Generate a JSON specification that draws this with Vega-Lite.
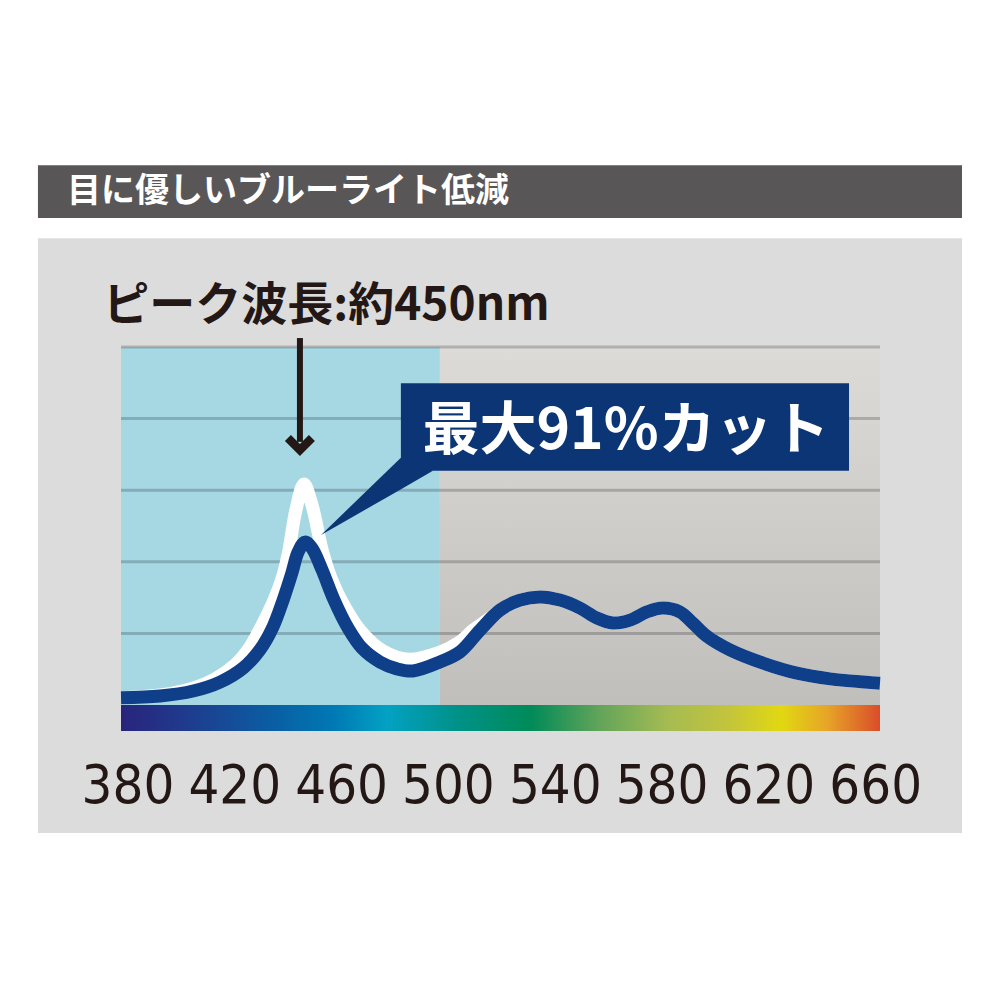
{
  "$schema": "https://vega.github.io/schema/vega-lite/v6.json",
  "width": 759,
  "height": 358,
  "autosize": "none",
  "padding": {"left": 121, "top": 347, "right": 120, "bottom": 295},
  "background": "#ffffff",
  "config": {
    "view": {"stroke": null}
  },
  "datasets": {
    "reduced": [
      {"nm": 377.4, "v": 2.0}, {"nm": 392.0, "v": 2.5}, {"nm": 404.4, "v": 3.9}, {"nm": 414.5, "v": 6.4},
      {"nm": 423.1, "v": 10.3}, {"nm": 429.4, "v": 15.4}, {"nm": 434.3, "v": 21.8}, {"nm": 438.1, "v": 29.3},
      {"nm": 441.4, "v": 36.9}, {"nm": 443.7, "v": 42.7}, {"nm": 446.3, "v": 45.5}, {"nm": 448.9, "v": 43.8},
      {"nm": 452.7, "v": 37.7}, {"nm": 457.2, "v": 29.3}, {"nm": 462.4, "v": 21.5}, {"nm": 467.6, "v": 15.9},
      {"nm": 474.4, "v": 12.0}, {"nm": 480.7, "v": 10.1}, {"nm": 486.7, "v": 9.5}, {"nm": 496.8, "v": 12.0},
      {"nm": 504.3, "v": 14.8}, {"nm": 511.8, "v": 20.9}, {"nm": 519.3, "v": 26.5}, {"nm": 526.8, "v": 29.3},
      {"nm": 534.3, "v": 30.2}, {"nm": 541.8, "v": 29.3}, {"nm": 549.2, "v": 27.1}, {"nm": 555.6, "v": 24.3},
      {"nm": 561.6, "v": 22.9}, {"nm": 568.0, "v": 23.7}, {"nm": 574.3, "v": 26.0}, {"nm": 580.3, "v": 27.1},
      {"nm": 586.7, "v": 26.0}, {"nm": 591.6, "v": 22.8}, {"nm": 596.8, "v": 19.2}, {"nm": 605.4, "v": 15.4},
      {"nm": 617.8, "v": 11.7}, {"nm": 630.5, "v": 8.9}, {"nm": 642.9, "v": 7.3}, {"nm": 661.6, "v": 6.1}
    ],
    "original": [
      {"nm": 377.4, "v": 2.0}, {"nm": 392.0, "v": 2.8}, {"nm": 404.4, "v": 4.7}, {"nm": 412.6, "v": 7.3},
      {"nm": 420.1, "v": 11.2}, {"nm": 425.0, "v": 15.4}, {"nm": 430.2, "v": 22.3}, {"nm": 434.7, "v": 29.3},
      {"nm": 438.1, "v": 36.3}, {"nm": 440.3, "v": 43.3}, {"nm": 442.9, "v": 54.5}, {"nm": 445.9, "v": 61.7},
      {"nm": 448.9, "v": 55.9}, {"nm": 452.7, "v": 43.3}, {"nm": 456.0, "v": 35.5}, {"nm": 459.8, "v": 29.3},
      {"nm": 466.9, "v": 20.9}, {"nm": 475.5, "v": 15.1}, {"nm": 484.9, "v": 12.8}, {"nm": 496.8, "v": 14.8},
      {"nm": 504.3, "v": 17.6}, {"nm": 509.2, "v": 20.9}, {"nm": 515.6, "v": 24.3}, {"nm": 519.3, "v": 26.5},
      {"nm": 526.8, "v": 29.3}, {"nm": 534.3, "v": 30.2}, {"nm": 541.8, "v": 29.3}, {"nm": 549.2, "v": 27.1},
      {"nm": 555.6, "v": 24.3}, {"nm": 561.6, "v": 22.9}, {"nm": 568.0, "v": 23.7}, {"nm": 574.3, "v": 26.0},
      {"nm": 580.3, "v": 27.1}, {"nm": 586.7, "v": 26.0}, {"nm": 591.6, "v": 22.8}, {"nm": 596.8, "v": 19.2},
      {"nm": 605.4, "v": 15.4}, {"nm": 617.8, "v": 11.7}, {"nm": 630.5, "v": 8.9}, {"nm": 642.9, "v": 7.3},
      {"nm": 661.6, "v": 6.1}
    ],
    "grid": [{"v": 20}, {"v": 40}, {"v": 60}, {"v": 80}, {"v": 100}],
    "ticks": [{"nm": 380}, {"nm": 420}, {"nm": 460}, {"nm": 500}, {"nm": 540}, {"nm": 580}, {"nm": 620}, {"nm": 660}],
    "one": [{}]
  },
  "layer": [
    {
      "data": {"name": "one"},
      "mark": {"type": "rect", "color": "#dcdcdc"},
      "encoding": {
        "x": {"datum": 346.3, "type": "quantitative", "scale": {"domain": [377.4, 661.6], "nice": false, "zero": false}, "axis": null},
        "x2": {"datum": 692.3},
        "y": {"datum": -35.75, "type": "quantitative", "scale": {"domain": [0, 100], "nice": false, "zero": false}, "axis": null},
        "y2": {"datum": 130.4}
      }
    },
    {
      "data": {"name": "one"},
      "mark": {"type": "rect", "color": "#595657"},
      "encoding": {
        "x": {"datum": 346.3, "type": "quantitative", "axis": null},
        "x2": {"datum": 692.3},
        "y": {"datum": 136.0, "type": "quantitative", "axis": null},
        "y2": {"datum": 150.8}
      }
    },
    {
      "data": {"name": "one"},
      "mark": {"type": "text", "text": "目に優しいブルーライト低減", "font": "Noto Sans CJK JP", "fontWeight": "bold", "fontSize": 34, "color": "#ffffff", "align": "left", "baseline": "middle"},
      "encoding": {
        "x": {"datum": 357.2, "type": "quantitative", "axis": null},
        "y": {"datum": 143.3, "type": "quantitative", "axis": null}
      }
    },
    {
      "data": {"name": "one"},
      "mark": {"type": "rect", "color": "#a6d8e4"},
      "encoding": {
        "x": {"datum": 377.4, "type": "quantitative", "axis": null},
        "x2": {"datum": 496.8},
        "y": {"datum": 0, "type": "quantitative", "axis": null},
        "y2": {"datum": 100}
      }
    },
    {
      "data": {"name": "one"},
      "mark": {"type": "rect", "color": {"gradient": "linear", "x1": 0, "y1": 0, "x2": 0, "y2": 1, "stops": [{"offset": 0, "color": "#dddbd8"}, {"offset": 1, "color": "#c1bfbc"}]}},
      "encoding": {
        "x": {"datum": 496.8, "type": "quantitative", "axis": null},
        "x2": {"datum": 661.6},
        "y": {"datum": 0, "type": "quantitative", "axis": null},
        "y2": {"datum": 100}
      }
    },
    {
      "data": {"name": "grid"},
      "mark": {"type": "rule", "color": "#000000", "opacity": 0.2, "strokeWidth": 3},
      "encoding": {
        "y": {"field": "v", "type": "quantitative", "axis": null}
      }
    },
    {
      "data": {"name": "one"},
      "mark": {"type": "rect", "color": {"gradient": "linear", "x1": 0, "y1": 0, "x2": 1, "y2": 0, "stops": [
        {"offset": 0, "color": "#29247c"},
        {"offset": 0.1, "color": "#1d3f90"},
        {"offset": 0.2, "color": "#0a5ea3"},
        {"offset": 0.28, "color": "#0079b4"},
        {"offset": 0.35, "color": "#03a1c3"},
        {"offset": 0.44, "color": "#00928a"},
        {"offset": 0.54, "color": "#008b58"},
        {"offset": 0.63, "color": "#62a45a"},
        {"offset": 0.72, "color": "#a5bb52"},
        {"offset": 0.8, "color": "#c3c43c"},
        {"offset": 0.87, "color": "#e1d811"},
        {"offset": 0.93, "color": "#e7a527"},
        {"offset": 1, "color": "#d94d2a"}
      ]}},
      "encoding": {
        "x": {"datum": 377.4, "type": "quantitative", "axis": null},
        "x2": {"datum": 661.6},
        "y": {"datum": -7.26, "type": "quantitative", "axis": null},
        "y2": {"datum": 0}
      }
    },
    {
      "data": {"name": "ticks"},
      "mark": {"type": "text", "font": "DejaVu Sans Condensed, Noto Sans, sans-serif", "fontSize": 54, "color": "#231815", "align": "center", "baseline": "alphabetic"},
      "encoding": {
        "x": {"field": "nm", "type": "quantitative", "axis": null},
        "y": {"datum": -27.4, "type": "quantitative", "axis": null},
        "text": {"field": "nm", "type": "quantitative"}
      }
    },
    {
      "data": {"name": "original"},
      "mark": {"type": "line", "color": "#ffffff", "strokeWidth": 13, "interpolate": "catmull-rom", "strokeJoin": "round"},
      "encoding": {
        "x": {"field": "nm", "type": "quantitative", "axis": null},
        "y": {"field": "v", "type": "quantitative", "axis": null}
      }
    },
    {
      "data": {"name": "reduced"},
      "mark": {"type": "line", "color": "#0f3f88", "strokeWidth": 13, "interpolate": "catmull-rom", "strokeJoin": "round"},
      "encoding": {
        "x": {"field": "nm", "type": "quantitative", "axis": null},
        "y": {"field": "v", "type": "quantitative", "axis": null}
      }
    },
    {
      "data": {"values": [{"x": 452.3, "y": 47.5, "y2": 47.5}, {"x": 482.1, "y": 69.0, "y2": 60.2}, {"x": 494.2, "y": 65.4, "y2": 65.4}]},
      "mark": {"type": "area", "color": "#0b3574", "interpolate": "linear", "orient": "vertical"},
      "encoding": {
        "x": {"field": "x", "type": "quantitative", "axis": null},
        "y": {"field": "y", "type": "quantitative", "axis": null},
        "y2": {"field": "y2"}
      }
    },
    {
      "data": {"name": "one"},
      "mark": {"type": "rect", "color": "#0b3574"},
      "encoding": {
        "x": {"datum": 482.2, "type": "quantitative", "axis": null},
        "x2": {"datum": 650.0},
        "y": {"datum": 65.4, "type": "quantitative", "axis": null},
        "y2": {"datum": 89.9}
      }
    },
    {
      "data": {"name": "one"},
      "mark": {"type": "text", "text": "最大91%カット", "font": "Noto Sans CJK JP", "fontWeight": "bold", "fontSize": 57, "color": "#ffffff", "align": "center", "baseline": "middle"},
      "encoding": {
        "x": {"datum": 566.5, "type": "quantitative", "axis": null},
        "y": {"datum": 76.2, "type": "quantitative", "axis": null}
      }
    },
    {
      "data": {"name": "one"},
      "mark": {"type": "text", "text": "ピーク波長:約450nm", "font": "Noto Sans CJK JP", "fontWeight": "bold", "fontSize": 46, "color": "#231815", "align": "center", "baseline": "middle"},
      "encoding": {
        "x": {"datum": 454.3, "type": "quantitative", "axis": null},
        "y": {"datum": 111.5, "type": "quantitative", "axis": null}
      }
    },
    {
      "data": {"name": "one"},
      "mark": {"type": "rule", "color": "#231815", "strokeWidth": 6},
      "encoding": {
        "x": {"datum": 444.4, "type": "quantitative", "axis": null},
        "y": {"datum": 102.5, "type": "quantitative", "axis": null},
        "y2": {"datum": 73.5}
      }
    },
    {
      "data": {"name": "one"},
      "mark": {"type": "point", "shape": "M0,0.8 L-1,-0.2 L-0.6,-0.6 L0,0 L0.6,-0.6 L1,-0.2 Z", "filled": true, "color": "#231815", "opacity": 1, "size": 900},
      "encoding": {
        "x": {"datum": 444.4, "type": "quantitative", "axis": null},
        "y": {"datum": 72.9, "type": "quantitative", "axis": null}
      }
    }
  ]
}
